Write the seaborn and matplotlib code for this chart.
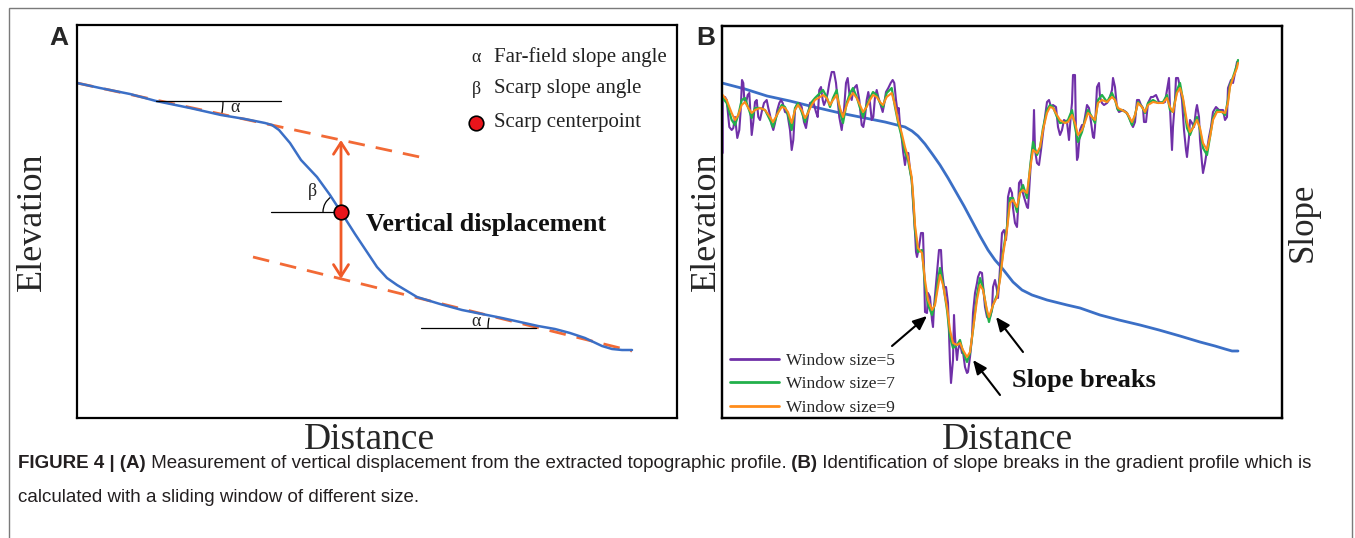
import numpy as np
import matplotlib
matplotlib.use("Agg")
import matplotlib.pyplot as plt
from matplotlib.patches import Arc, Rectangle
import seaborn as sns

# ---------------- Panel A: topographic profile across the scarp ----------------
profile_dist = [0, 23, 53, 79, 113, 144, 168, 188, 195, 202, 213, 224, 240, 253, 264,
                278, 290, 300, 310, 320, 330, 340, 363, 385, 405, 425, 443, 461, 478,
                493, 508, 525, 535, 545, 555]
profile_elev = [33.5, 33.0, 32.4, 31.7, 31.0, 30.3, 29.9, 29.5, 29.3, 28.8, 27.5, 25.8,
                24.1, 22.3, 20.6, 18.4, 16.6, 15.1, 14.0, 13.3, 12.7, 12.1, 11.4, 10.8,
                10.4, 10.0, 9.6, 9.2, 8.9, 8.5, 8.0, 7.2, 6.9, 6.8, 6.8]

# far-field surfaces fitted above and below the scarp
upper_fit_dist = [0, 352]
upper_fit_elev = [33.5, 25.9]
lower_fit_dist = [176, 555]
lower_fit_elev = [16.1, 6.7]

# scarp centerpoint
center_dist = 264
center_elev = 20.6

# points where the angle reference lines touch the profile
alpha_upper_dist, alpha_upper_elev = 79, 31.7
alpha_lower_dist, alpha_lower_elev = 459, 9.0

legend_a_items = ["Far-field slope angle", "Scarp slope angle", "Scarp centerpoint"]

# ---------------- Panel B: elevation and slope profiles ----------------
elev_dist = [0, 23, 45, 68, 88, 118, 143, 163, 175, 183, 190, 196, 203, 211, 218, 226,
             234, 242, 250, 258, 266, 273, 280, 291, 300, 310, 325, 345, 358, 378, 397,
             418, 437, 458, 478, 493, 503, 510, 516]
elev_b = [33.5, 32.9, 32.2, 31.7, 31.2, 30.5, 30.0, 29.6, 29.3, 29.1, 28.7, 28.2, 27.4,
          26.3, 25.3, 24.0, 22.6, 21.2, 19.7, 18.2, 16.8, 15.8, 15.0, 13.6, 12.8, 12.3,
          11.8, 11.3, 11.0, 10.3, 9.8, 9.3, 8.8, 8.2, 7.6, 7.2, 6.9, 6.7, 6.7]

# slope, window size = 5
w5_dist = [0.7, 0.7, 3, 4.7, 7.3, 9.7, 11.3, 13, 15.3, 17.3, 18.7, 20, 21.3, 22.3, 24,
           25.7, 27.3, 28.7, 29.7, 31.3, 33, 34.7, 36.3, 38, 39.7, 42, 44.7, 46.3, 48,
           49.7, 51.3, 53, 55.3, 57.3, 59, 60.7, 63, 65.3, 68, 69.7, 71.3, 73, 74.7,
           77.3, 79.7, 82, 84, 86.3, 88, 91.3, 94, 95.7, 97.3, 99, 100.7, 102, 104,
           105.7, 107.3, 109.7, 112, 114, 115.7, 117.3, 119.7, 122, 124, 125.7, 127.3,
           129.7, 131.3, 133, 134.7, 137.3, 139.7, 141.3, 143, 144.7, 146.3, 148, 149.7,
           151.3, 153, 154.7, 156.3, 158.7, 160.7, 162, 164, 166.3, 168.7, 170.7, 172.3,
           174, 175.7, 176.7, 178, 179.7, 181.3, 183, 184.7, 186.3, 188, 189.7, 191.3,
           193, 194, 195, 197, 199, 201, 201.5, 202, 203, 205, 206, 208, 210, 211, 212,
           215, 217, 219, 220, 222, 224, 226, 227, 228, 229, 231, 232, 233, 235, 236,
           238, 240, 241, 243, 245, 246, 248, 250, 251, 253, 255, 256, 258, 260, 261,
           263, 265, 266, 268, 270, 271, 273, 275, 276, 277, 279, 280, 282, 284, 285,
           286, 288, 290, 291, 293, 295, 296, 297, 299, 300, 302, 305, 306, 307, 309,
           311, 312, 313, 315, 317, 319, 321, 323, 325, 327, 329, 331, 334, 336, 338,
           340, 342, 345, 347, 349, 350, 351, 353, 354, 355, 356, 358, 360, 361, 363,
           365, 367, 369, 371, 372, 373, 375, 377, 378, 380, 382, 385, 387, 390, 391,
           393, 395, 397, 401, 404, 407, 410, 411, 413, 415, 417, 419, 421, 422, 424,
           426, 429, 431, 434, 437, 441, 443, 445, 447, 448, 450, 451, 453, 454, 456,
           458, 460, 462, 464, 465, 467, 468, 470, 472, 474, 475, 477, 478, 480, 481,
           483, 485, 487, 489, 491, 494, 497, 501, 503, 505, 506, 509, 511, 513, 515, 516]
w5_slope = [26.5, 32.1, 32.1, 31.8, 29.1, 28.8, 29.0, 30.1, 28.0, 28.8, 30.8, 33.8, 33.5,
            31.8, 31.5, 32.3, 32.5, 30.1, 28.3, 29.6, 31.6, 31.8, 30.1, 29.8, 30.6, 31.5,
            31.8, 31.0, 30.3, 29.3, 28.8, 29.5, 30.8, 31.5, 31.8, 31.5, 30.6, 30.5, 28.8,
            26.8, 27.8, 30.8, 31.3, 31.5, 31.1, 29.6, 29.0, 30.5, 31.5, 31.6, 30.6, 30.1,
            32.8, 33.1, 31.8, 31.3, 31.8, 32.5, 33.5, 34.6, 34.6, 33.5, 31.8, 30.1, 28.8,
            30.8, 33.5, 34.0, 32.5, 31.8, 32.8, 33.1, 33.3, 31.8, 29.3, 29.1, 30.1, 31.8,
            32.6, 31.5, 29.8, 30.1, 32.1, 32.8, 32.1, 31.3, 30.6, 31.3, 32.6, 33.0, 33.5,
            33.8, 33.5, 31.8, 30.5, 31.0, 29.3, 28.0, 26.5, 25.3, 26.5, 26.5, 24.8, 23.8,
            21.1, 18.6, 16.6, 16.1, 17.1, 18.5, 18.5, 16.8, 15.1, 10.6, 10.5, 12.5, 12.1,
            9.8, 9.1, 11.1, 14.5, 16.8, 16.8, 14.8, 13.1, 13.1, 11.5, 8.5, 5.5, 3.5, 5.8,
            10.3, 8.1, 5.8, 6.8, 7.5, 6.5, 6.6, 5.1, 4.5, 4.6, 6.1, 8.1, 10.5, 12.5, 13.5,
            14.1, 14.6, 14.5, 13.3, 11.1, 10.1, 10.0, 10.1, 10.8, 13.1, 13.8, 12.8, 12.0,
            13.3, 16.8, 18.5, 18.8, 17.8, 19.1, 22.1, 23.0, 22.5, 21.0, 19.5, 19.1, 20.8,
            23.5, 23.8, 22.8, 22.1, 21.1, 21.0, 22.5, 25.8, 27.1, 30.8, 26.8, 25.5, 25.3,
            26.8, 28.5, 30.1, 31.6, 31.8, 31.1, 31.3, 31.1, 29.1, 28.3, 28.8, 29.8, 29.6,
            27.8, 30.5, 31.5, 34.3, 34.3, 28.5, 25.8, 26.1, 28.8, 29.3, 29.0, 30.1, 31.3,
            31.0, 29.6, 28.1, 28.0, 29.1, 33.1, 33.5, 32.1, 31.5, 31.3, 31.5, 31.8, 32.8,
            34.0, 33.1, 31.0, 30.6, 30.8, 30.6, 30.1, 29.3, 29.1, 29.6, 31.8, 31.8, 31.3,
            31.0, 29.6, 29.6, 31.5, 32.1, 32.1, 32.3, 31.6, 31.5, 31.6, 32.8, 34.0, 31.0,
            26.8, 29.1, 31.8, 34.0, 34.0, 33.1, 31.8, 28.8, 26.8, 26.1, 28.1, 29.8, 29.5,
            29.1, 30.8, 31.3, 30.1, 27.8, 25.5, 24.5, 25.5, 26.8, 28.1, 29.1, 30.6, 31.1,
            30.8, 30.8, 29.8, 30.1, 33.0, 33.8, 33.5, 34.5, 35.6, 35.5]

# slope, window sizes 7 and 9 share one sampling of distance
w79_dist = [0.7, 4.7, 9.7, 13, 16.3, 19.7, 23, 26.3, 29.7, 33, 38, 43, 48, 51, 56, 59.7,
            63, 66, 69.7, 73, 76, 79.7, 83, 86, 89.7, 93, 98, 101, 104.7, 108, 111, 114.7,
            118, 121, 124.7, 128, 131, 134.7, 138, 141, 144.7, 148, 151, 154.7, 158, 161,
            164.7, 169.7, 173, 176, 179.7, 183, 186, 189.7, 191.5, 193, 196, 200, 203,
            206, 210, 213, 216, 218, 221, 225, 228, 231, 235, 238, 241, 245, 248, 251,
            255, 258, 261, 265, 267, 271, 275, 278, 281, 285, 288, 291, 295, 298, 301,
            305, 308, 311, 315, 318, 321, 325, 328, 331, 335, 338, 343, 346, 350, 353,
            356, 360, 363, 366, 370, 373, 376, 380, 385, 390, 393, 396, 400, 405, 410,
            413, 416, 420, 423, 426, 431, 436, 441, 445, 448, 451, 455, 458, 461, 465,
            468, 471, 475, 478, 481, 485, 488, 491, 495, 500, 503, 506, 508, 511, 515, 516]
w7_slope = [32.0, 31.5, 29.8, 29.3, 30.3, 31.8, 32.0, 31.0, 30.0, 31.0, 31.0, 30.8, 29.8,
            29.1, 30.6, 31.3, 31.1, 30.3, 28.8, 31.0, 31.5, 30.6, 29.6, 30.6, 31.6, 32.0,
            32.5, 32.8, 32.1, 31.1, 32.0, 32.8, 30.6, 29.5, 31.5, 32.5, 33.0, 32.1, 31.0,
            30.1, 31.3, 32.0, 32.6, 32.3, 31.5, 31.1, 32.5, 33.0, 31.1, 29.6, 28.1, 26.6,
            25.8, 23.8, 21.3, 18.8, 16.6, 16.8, 13.3, 11.3, 10.3, 11.5, 13.8, 15.0, 13.5,
            10.8, 8.1, 7.0, 7.3, 7.8, 6.6, 5.6, 6.5, 8.8, 12.3, 14.0, 13.0, 10.5, 9.6,
            11.3, 12.3, 14.0, 16.6, 19.1, 22.0, 22.0, 20.6, 22.6, 23.3, 22.0, 25.0, 27.6,
            26.3, 27.0, 29.0, 30.8, 31.3, 31.1, 30.1, 29.5, 29.6, 29.8, 30.8, 29.1, 27.6,
            28.6, 29.8, 30.8, 30.1, 29.5, 31.8, 32.3, 31.6, 32.5, 31.8, 30.8, 30.8, 30.5,
            29.3, 30.3, 31.6, 31.1, 30.5, 31.5, 31.8, 31.5, 31.6, 32.3, 30.8, 30.6, 32.8,
            33.5, 31.8, 29.0, 28.3, 29.1, 30.1, 28.8, 27.0, 26.3, 28.1, 30.0, 30.8, 30.6,
            30.3, 31.8, 33.3, 34.1, 35.3, 35.8]
w9_slope = [32.3, 31.8, 30.5, 29.8, 30.3, 31.3, 31.6, 31.0, 30.5, 30.8, 31.0, 30.8, 30.1,
            29.6, 30.5, 31.1, 31.0, 30.6, 29.5, 30.8, 31.3, 30.8, 30.0, 30.5, 31.3, 31.8,
            32.1, 32.3, 32.0, 31.3, 31.8, 32.3, 31.0, 30.1, 31.3, 32.1, 32.5, 32.0, 31.3,
            30.6, 31.1, 31.8, 32.3, 32.1, 31.6, 31.3, 32.1, 32.5, 31.3, 29.8, 28.5, 27.1,
            26.1, 24.1, 21.8, 19.3, 17.0, 16.5, 13.8, 11.8, 10.8, 11.3, 13.1, 14.3, 13.3,
            11.1, 8.8, 7.5, 7.3, 7.5, 6.8, 6.1, 6.6, 8.8, 11.8, 13.3, 12.8, 10.8, 10.1,
            11.3, 12.1, 13.8, 16.3, 18.8, 21.5, 21.8, 21.1, 22.5, 22.8, 22.5, 24.8, 26.8,
            26.5, 27.1, 28.8, 30.5, 31.1, 31.0, 30.3, 29.8, 29.5, 29.6, 30.3, 29.5, 28.3,
            28.8, 29.6, 30.5, 30.1, 29.8, 31.5, 31.8, 31.6, 32.1, 31.8, 31.0, 30.8, 30.5,
            29.6, 30.3, 31.5, 31.1, 30.6, 31.3, 31.6, 31.5, 31.5, 32.0, 31.1, 30.6, 32.5,
            33.0, 32.0, 29.6, 28.6, 29.0, 29.8, 29.0, 27.5, 26.8, 28.1, 29.8, 30.6, 30.6,
            30.5, 31.5, 33.1, 34.0, 35.0, 35.5]

# slope breaks picked on the gradient profile
break_dist = [205, 251, 274]
break_slope = [10.2, 5.8, 10.1]

window_labels = ["Window size=5", "Window size=7", "Window size=9"]

caption_line1 = [
    ("FIGURE 4 | (A)", "bold"),
    (" Measurement of vertical displacement from the extracted topographic profile.", "normal"),
    (" (B)", "bold"),
    (" Identification of slope breaks in the gradient profile which is", "normal"),
]
caption_line2 = "calculated with a sliding window of different size."

# ---------------- styling ----------------
sns.set_theme(style="white")
plt.rcParams["font.family"] = ["Liberation Serif", "DejaVu Serif"]
plt.rcParams["axes.linewidth"] = 1.6
plt.rcParams["axes.edgecolor"] = "black"

BLUE = "#3b6fc6"
FIT_ORANGE = "#f26a36"
ARROW_ORANGE = "#f05a28"
PURPLE = "#7030a8"
GREEN = "#22b04b"
ORANGE = "#ff8c1a"

W, H = 1355, 538
fig = plt.figure(figsize=(W / 100, H / 100), dpi=100)
fig.patch.set_facecolor("white")


def px_axes(left, top, right, bottom):
    return fig.add_axes([left / W, 1 - bottom / H, (right - left) / W, (bottom - top) / H])


def centre_labels(ax, xlab_pos=None, ylab_pos=None):
    """Centre axis labels on the given axes-fraction positions."""
    if xlab_pos is not None:
        ax.xaxis.label.set_va("center")
        ax.xaxis.label.set_ha("center")
        ax.xaxis.set_label_coords(*xlab_pos)
    if ylab_pos is not None:
        ax.yaxis.label.set_va("center")
        ax.yaxis.label.set_ha("center")
        ax.yaxis.set_label_coords(*ylab_pos)


# outer frame around the figure block
fig.add_artist(Rectangle((9 / W, -0.1), (1352 - 9) / W, 1.1 - 8 / H,
                         transform=fig.transFigure, fill=False,
                         edgecolor="#7a7a7a", linewidth=1.0))

# ======== Panel A ========
axA = px_axes(77, 25, 677, 418)
axA.set_xlim(0, 600)
axA.set_ylim(0, 39.3)

sns.lineplot(x=upper_fit_dist, y=upper_fit_elev, ax=axA, color=FIT_ORANGE, linewidth=2.0)
axA.lines[-1].set_dashes([6, 4])
sns.lineplot(x=lower_fit_dist, y=lower_fit_elev, ax=axA, color=FIT_ORANGE, linewidth=2.0)
axA.lines[-1].set_dashes([6, 4])
sns.lineplot(x=profile_dist, y=profile_elev, ax=axA, color=BLUE, linewidth=1.8,
             sort=False, estimator=None)

# vertical displacement between the two fitted surfaces at the centerpoint
top_v = np.interp(center_dist, upper_fit_dist, upper_fit_elev)
bot_v = np.interp(center_dist, lower_fit_dist, lower_fit_elev)
axA.annotate("", xy=(center_dist, top_v), xytext=(center_dist, bot_v),
             arrowprops=dict(arrowstyle="<->,head_length=0.7,head_width=0.45",
                             color=ARROW_ORANGE, lw=2.0, shrinkA=0, shrinkB=0))

# reference horizontals and angle arcs
ln_kw = dict(color="black", linewidth=0.9)
axA.plot([194, center_dist], [center_elev, center_elev], **ln_kw)
axA.plot([alpha_upper_dist, alpha_upper_dist + 125], [alpha_upper_elev] * 2, **ln_kw)
axA.plot([alpha_lower_dist - 115, alpha_lower_dist], [alpha_lower_elev] * 2, **ln_kw)

fig.canvas.draw()
sx = axA.transData.transform((1, 0))[0] - axA.transData.transform((0, 0))[0]
sy = axA.transData.transform((0, 1))[1] - axA.transData.transform((0, 0))[1]


def profile_angle(d0, d1):
    # Arc stretches its angles with the ellipse, so give the angle in data units
    e0 = np.interp(d0, profile_dist, profile_elev)
    e1 = np.interp(d1, profile_dist, profile_elev)
    return np.degrees(np.arctan2(e1 - e0, d1 - d0))


def draw_arc(cx, cy, r, t1, t2):
    axA.add_patch(Arc((cx, cy), 2 * r / sx, 2 * r / sy, theta1=t1, theta2=t2,
                      color="black", linewidth=0.9))


draw_arc(alpha_upper_dist, alpha_upper_elev, 67, profile_angle(alpha_upper_dist, alpha_upper_dist + 60), 0)
draw_arc(alpha_lower_dist, alpha_lower_elev, 48, profile_angle(alpha_lower_dist, alpha_lower_dist - 40), 180)
draw_arc(center_dist, center_elev, 18, profile_angle(center_dist, center_dist - 11), 180)

sym_kw = dict(fontsize=13, color="#222222", va="center", ha="center")
axA.text(158, 31.0, "α", **sym_kw)
axA.text(399, 9.6, "α", **sym_kw)
axA.text(235, 22.6, "β", **sym_kw)

axA.scatter([center_dist], [center_elev], s=110, color="#e8141b", edgecolor="black",
            linewidth=1.2, zorder=5)
axA.text(289, 19.3, "Vertical displacement", fontsize=18.8, fontweight="bold",
         va="center", ha="left", color="#111111")

# symbol key
key_y = [36.1, 32.9, 29.5]
axA.text(399, key_y[0], "α", **sym_kw)
axA.text(399, key_y[1], "β", **sym_kw)
axA.scatter([399], [key_y[2]], s=110, color="#e8141b", edgecolor="black",
            linewidth=1.2, zorder=5)
for yk, lab in zip(key_y, legend_a_items):
    axA.text(417, yk, lab, fontsize=15, va="center", ha="left", color="#222222")

axA.set_xticks([])
axA.set_yticks([])
axA.set_xlabel("Distance", fontsize=27)
axA.set_ylabel("Elevation", fontsize=26)
centre_labels(axA, (0.487, -0.056), (-0.074, 0.50))
for sp in axA.spines.values():
    sp.set_visible(True)

# ======== Panel B ========
axB = px_axes(722, 26, 1282, 418)
axB.set_xlim(0, 560)
axB.set_ylim(0, 39.2)
axS = axB.twinx()
axS.set_ylim(0, 39.2)

sns.lineplot(x=elev_dist, y=elev_b, ax=axB, color=BLUE, linewidth=2.0,
             sort=False, estimator=None)
sns.lineplot(x=w5_dist, y=w5_slope, ax=axS, color=PURPLE, linewidth=1.5,
             sort=False, estimator=None, label=window_labels[0])
sns.lineplot(x=w79_dist, y=w7_slope, ax=axS, color=GREEN, linewidth=1.6,
             sort=False, estimator=None, label=window_labels[1])
sns.lineplot(x=w79_dist, y=w9_slope, ax=axS, color=ORANGE, linewidth=1.5,
             sort=False, estimator=None, label=window_labels[2])

leg = axS.legend(loc="lower left", bbox_to_anchor=(0.002, -0.012), frameon=False,
                 fontsize=12.5, handlelength=2.8, handletextpad=0.45,
                 labelspacing=0.42, borderaxespad=0.0)
for h in leg.legend_handles:
    h.set_linewidth(2.0)

for bx, by, off in zip(break_dist, break_slope, [(-35, -30), (27, -35), (27, -35)]):
    axS.annotate("", xy=(bx, by), xytext=off, textcoords="offset pixels",
                 arrowprops=dict(arrowstyle="-|>,head_length=0.7,head_width=0.3",
                                 color="black", lw=1.5, shrinkA=0, shrinkB=0))
axS.text(290, 3.8, "Slope breaks", fontsize=19, fontweight="bold",
         va="center", ha="left", color="#111111")

for a in (axB, axS):
    a.set_xticks([])
    a.set_yticks([])
axB.set_xlabel("Distance", fontsize=27)
axB.set_ylabel("Elevation", fontsize=26)
axS.set_ylabel("Slope", fontsize=25)
centre_labels(axB, (0.509, -0.056), (-0.027, 0.50))
centre_labels(axS, None, (1.0375, 0.50))
for sp in axS.spines.values():
    sp.set_visible(True)

# panel letters
fig.text(59 / W, 1 - 38 / H, "A", fontsize=19, fontweight="bold",
         family="Liberation Sans", ha="center", va="center")
fig.text(706 / W, 1 - 38 / H, "B", fontsize=19, fontweight="bold",
         family="Liberation Sans", ha="center", va="center")

# caption
cap_kw = dict(fontsize=13.5, family="Liberation Sans", color="#231f20")
t = fig.text(18 / W, 1 - 472 / H, caption_line1[0][0], fontweight=caption_line1[0][1],
             va="bottom", ha="left", **cap_kw)
for txt, wgt in caption_line1[1:]:
    t = axB.annotate(txt, xy=(1, 0), xycoords=t, va="bottom", ha="left",
                     fontweight=wgt, annotation_clip=False, **cap_kw)
fig.text(18 / W, 1 - 506 / H, caption_line2, va="bottom", ha="left", **cap_kw)

fig.savefig("out.png", dpi=100, facecolor="white")
